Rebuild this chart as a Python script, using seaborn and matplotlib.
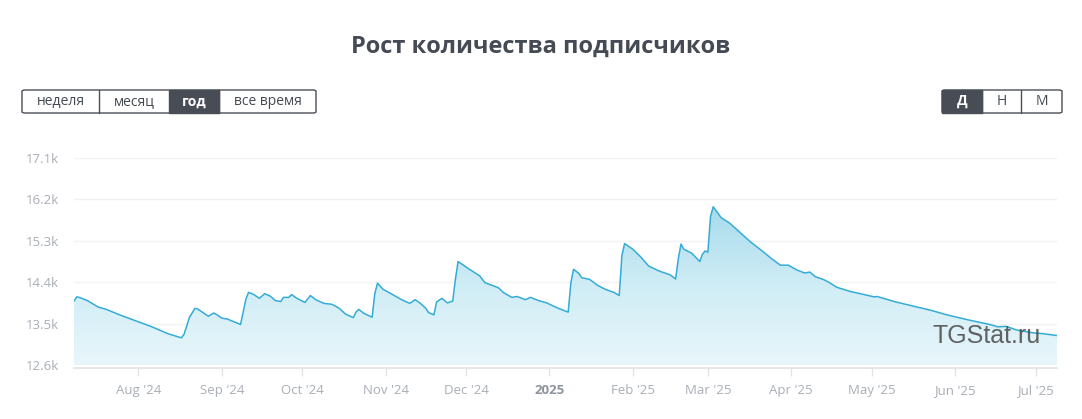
import numpy as np
import pandas as pd
import matplotlib
matplotlib.use("Agg")
import matplotlib.pyplot as plt
import matplotlib.dates as mdates
from matplotlib.colors import LinearSegmentedColormap
from matplotlib.patches import FancyBboxPatch, Rectangle
import seaborn as sns

# Subscriber count (thousands)
dates = [
    "2024-07-08", "2024-07-09", "2024-07-10", "2024-07-13", "2024-07-17", "2024-07-20",
    "2024-07-25", "2024-07-31", "2024-08-06", "2024-08-12", "2024-08-17", "2024-08-18",
    "2024-08-20", "2024-08-21", "2024-08-22", "2024-08-23", "2024-08-27", "2024-08-29",
    "2024-08-30", "2024-09-01", "2024-09-03", "2024-09-06", "2024-09-08", "2024-09-10",
    "2024-09-11", "2024-09-13", "2024-09-15", "2024-09-17", "2024-09-19", "2024-09-21",
    "2024-09-23", "2024-09-24", "2024-09-26", "2024-09-27", "2024-09-29", "2024-10-02",
    "2024-10-04", "2024-10-06", "2024-10-09", "2024-10-12", "2024-10-14", "2024-10-15",
    "2024-10-17", "2024-10-20", "2024-10-21", "2024-10-22", "2024-10-24", "2024-10-27",
    "2024-10-28", "2024-10-29", "2024-10-31", "2024-11-04", "2024-11-07", "2024-11-10",
    "2024-11-12", "2024-11-14", "2024-11-16", "2024-11-17", "2024-11-19", "2024-11-20",
    "2024-11-22", "2024-11-24", "2024-11-26", "2024-11-27", "2024-11-28", "2024-12-02",
    "2024-12-06", "2024-12-08", "2024-12-13", "2024-12-15", "2024-12-18", "2024-12-20",
    "2024-12-23", "2024-12-25", "2024-12-28", "2024-12-31", "2025-01-04", "2025-01-08",
    "2025-01-09", "2025-01-10", "2025-01-12", "2025-01-13", "2025-01-16", "2025-01-19",
    "2025-01-22", "2025-01-25", "2025-01-27", "2025-01-28", "2025-01-29", "2025-02-01",
    "2025-02-04", "2025-02-07", "2025-02-11", "2025-02-15", "2025-02-17", "2025-02-18",
    "2025-02-19", "2025-02-20", "2025-02-23", "2025-02-25", "2025-02-26", "2025-02-27",
    "2025-02-28", "2025-03-01", "2025-03-02", "2025-03-03", "2025-03-06", "2025-03-09",
    "2025-03-13", "2025-03-17", "2025-03-21", "2025-03-25", "2025-03-28", "2025-03-31",
    "2025-04-03", "2025-04-06", "2025-04-08", "2025-04-10", "2025-04-13", "2025-04-15",
    "2025-04-18", "2025-04-23", "2025-05-02", "2025-05-03", "2025-05-10", "2025-05-18",
    "2025-05-23", "2025-05-29", "2025-06-06", "2025-06-14", "2025-06-17", "2025-06-20",
    "2025-06-24", "2025-06-30", "2025-07-04", "2025-07-09",
]
subs_k = [
    13.99, 14.08, 14.07, 14.00, 13.86, 13.81,
    13.69, 13.56, 13.43, 13.28, 13.19, 13.27,
    13.64, 13.73, 13.83, 13.82, 13.66, 13.73,
    13.70, 13.62, 13.60, 13.53, 13.48, 14.03,
    14.18, 14.13, 14.05, 14.15, 14.10, 14.00,
    13.98, 14.07, 14.07, 14.13, 14.05, 13.96,
    14.11, 14.02, 13.94, 13.92, 13.86, 13.82,
    13.71, 13.63, 13.75, 13.81, 13.72, 13.64,
    14.15, 14.38, 14.25, 14.12, 14.02, 13.94,
    14.02, 13.94, 13.83, 13.74, 13.69, 13.97,
    14.05, 13.95, 13.99, 14.46, 14.85, 14.69,
    14.54, 14.39, 14.28, 14.17, 14.07, 14.09,
    14.02, 14.07, 14.00, 13.95, 13.84, 13.75,
    14.39, 14.68, 14.59, 14.50, 14.46, 14.33,
    14.24, 14.18, 14.11, 14.98, 15.24, 15.12,
    14.95, 14.75, 14.64, 14.56, 14.47, 14.91,
    15.23, 15.12, 15.03, 14.91, 14.85, 15.01,
    15.08, 15.05, 15.83, 16.04, 15.80, 15.69,
    15.48, 15.27, 15.09, 14.90, 14.77, 14.77,
    14.67, 14.60, 14.62, 14.52, 14.46, 14.40,
    14.29, 14.20, 14.08, 14.09, 13.97, 13.86,
    13.79, 13.69, 13.58, 13.48, 13.43, 13.44,
    13.36, 13.30, 13.28, 13.24,
]
y_ticks_k = [12.6, 13.5, 14.4, 15.3, 16.2, 17.1]
month_ticks = ["2024-08-01", "2024-09-01", "2024-10-01", "2024-11-01", "2024-12-01",
               "2025-01-01", "2025-02-01", "2025-03-01", "2025-04-01", "2025-05-01",
               "2025-06-01", "2025-07-01"]
left_buttons = ["неделя", "месяц", "год", "все время"]
right_buttons = ["Д", "Н", "М"]

df = pd.DataFrame({"date": pd.to_datetime(dates), "subs": np.array(subs_k) * 1000})

sns.set_theme(style="white")
plt.rcParams["font.family"] = ["Open Sans", "DejaVu Sans"]

W, H = 1082, 419
fig = plt.figure(figsize=(W / 100, H / 100), dpi=100)
ax = fig.add_axes([74 / W, 1 - 365 / H, (1057 - 74) / W, (365 - 158) / H])

line_c = "#35acd7"
sns.lineplot(data=df, x="date", y="subs", ax=ax, color=line_c, linewidth=1.1, zorder=4)

ymin, ymax = 12600, 17100
xnum = mdates.date2num(df["date"])
poly = ax.fill_between(df["date"], df["subs"], ymin, color="none", linewidth=0)
cmap = LinearSegmentedColormap.from_list("fill", ["#e8f6fa", "#d0edf6", "#a6dbeb"])
grad = ax.imshow(np.linspace(0, 1, 256).reshape(-1, 1), cmap=cmap, aspect="auto",
                 origin="lower", extent=[xnum.min(), xnum.max(), ymin, df["subs"].max()],
                 zorder=2)
grad.set_clip_path(poly.get_paths()[0], transform=ax.transData)

ax.set_xlim(xnum.min(), xnum.max())
ax.set_ylim(ymin, ymax)
ax.set_yticks([v * 1000 for v in y_ticks_k])
ax.set_yticklabels([f"{v:.1f}k" for v in y_ticks_k])
ax.grid(axis="y", color="#f2f2f2", linewidth=1)
ax.set_axisbelow(True)

tick_dates = pd.to_datetime(month_ticks)
ax.set_xticks(mdates.date2num(tick_dates))
labels = [str(d.year) if d.month == 1 else d.strftime("%b '%y") for d in tick_dates]
ax.set_xticklabels(labels)

ax.set_xlabel("")
ax.set_ylabel("")
for s in ["top", "right", "left"]:
    ax.spines[s].set_visible(False)
ax.spines["bottom"].set_color("#e3e3e3")
ax.spines["bottom"].set_position(("outward", 2))
ax.tick_params(axis="x", length=6, color="#e3e3e3", width=1, labelcolor="#a9aeb6",
               labelsize=9.5, pad=6, direction="out", bottom=True)
ax.tick_params(axis="y", length=0, labelcolor="#a9aeb6", labelsize=9.5, pad=11)
for lab, d in zip(ax.get_xticklabels(), tick_dates):
    if d.month == 1:
        lab.set_fontweight("bold")
        lab.set_color("#8d939c")

# watermark
ax.text(0.873, 0.14, "TGStat.ru", transform=ax.transAxes, fontsize=18,
        family="Liberation Sans", color="#4a4a4a", alpha=0.85, zorder=5,
        va="center", ha="left")

# title
fig.text(541 / W, 1 - 47 / H, "Рост количества подписчиков", ha="center", va="center",
         fontsize=17, fontweight="bold", color="#454b55")


def draw_buttons(names, edges, active, y0=90, y1=113):
    outer = FancyBboxPatch((edges[0] / W, 1 - y1 / H), (edges[-1] - edges[0]) / W,
                           (y1 - y0) / H, boxstyle="round,pad=0,rounding_size=0.003",
                           transform=fig.transFigure, facecolor="white",
                           edgecolor="#4a4f57", linewidth=1, zorder=1)
    fig.patches.append(outer)
    for i, name in enumerate(names):
        x0, x1 = edges[i], edges[i + 1]
        if i == active:
            r = Rectangle((x0 / W, 1 - y1 / H), (x1 - x0) / W, (y1 - y0) / H,
                          transform=fig.transFigure, facecolor="#474c55",
                          edgecolor="#474c55", linewidth=1, zorder=2)
            fig.patches.append(r)
        elif i > 0:
            fig.lines.append(plt.Line2D([x0 / W, x0 / W], [1 - y1 / H, 1 - y0 / H],
                                        transform=fig.transFigure, color="#4a4f57",
                                        linewidth=1, zorder=3))
        fig.text((x0 + x1) / 2 / W, 1 - (y0 + y1) / 2 / H, name, ha="center", va="center",
                 fontsize=10, color="white" if i == active else "#444a52",
                 fontweight="bold" if i == active else "normal", zorder=4)


draw_buttons(left_buttons, [22, 99, 169, 219, 316], 2)
draw_buttons(right_buttons, [942, 982, 1021, 1062], 0)

fig.savefig("out.png", dpi=100, facecolor="white")
